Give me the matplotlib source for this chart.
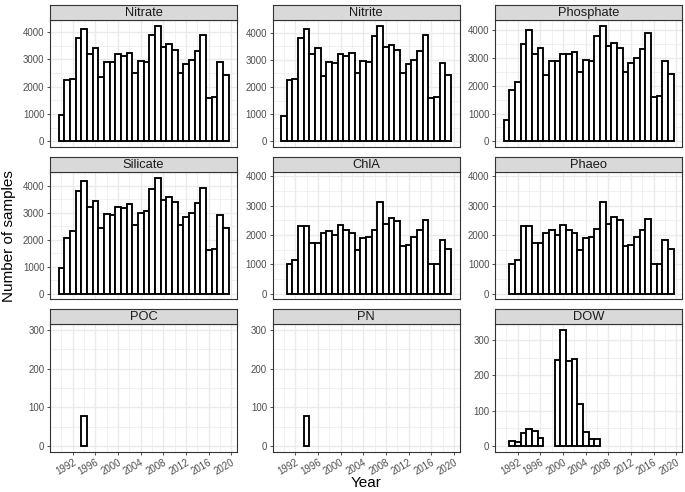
import matplotlib
matplotlib.use("Agg")
import matplotlib.pyplot as plt
from matplotlib.ticker import MultipleLocator, FixedLocator

plt.rcParams['font.family'] = ['Liberation Sans', 'DejaVu Sans']

# ---------------- data ----------------
panel_names = ["Nitrate", "Nitrite", "Phosphate", "Silicate", "ChlA", "Phaeo", "POC", "PN", "DOW"]

years_nutrients = [1990, 1991, 1992, 1993, 1994, 1995, 1996, 1997, 1998, 1999,
                   2000, 2001, 2002, 2003, 2004, 2005, 2006, 2007, 2008, 2009,
                   2010, 2011, 2012, 2013, 2014, 2015, 2016, 2017, 2018, 2019]
nitrate = [950, 2240, 2300, 3780, 4120, 3180, 3410, 2360, 2910, 2890,
           3190, 3140, 3240, 2510, 2940, 2910, 3880, 4230, 3450, 3550,
           3350, 2520, 2840, 2970, 3320, 3900, 1590, 1640, 2890, 2420]
nitrite = [950, 2250, 2300, 3800, 4150, 3200, 3420, 2400, 2930, 2900,
           3200, 3150, 3250, 2500, 2950, 2930, 3880, 4250, 3470, 3550,
           3370, 2530, 2840, 2980, 3320, 3900, 1600, 1640, 2900, 2430]
phosphate = [780, 1850, 2130, 3500, 4000, 3120, 3370, 2370, 2900, 2870,
             3150, 3130, 3220, 2480, 2930, 2880, 3800, 4150, 3430, 3520,
             3350, 2500, 2820, 2980, 3300, 3880, 1600, 1640, 2900, 2430]
silicate = [960, 2070, 2330, 3800, 4180, 3200, 3430, 2440, 2950, 2920,
            3210, 3180, 3300, 2540, 3000, 3060, 3890, 4280, 3470, 3590,
            3390, 2540, 2840, 3000, 3350, 3900, 1620, 1660, 2920, 2440]

years_pigments = [1991, 1992, 1993, 1994, 1995, 1996, 1997, 1998, 1999, 2000,
                  2001, 2002, 2003, 2004, 2005, 2006, 2007, 2008, 2009, 2010,
                  2011, 2012, 2013, 2014, 2015, 2016, 2017, 2018, 2019]
chla = [1000, 1130, 2290, 2300, 1720, 1740, 2050, 2150, 2000, 2340,
        2180, 2050, 1500, 1890, 1940, 2180, 3120, 2360, 2590, 2490,
        1610, 1640, 1930, 2180, 2520, 1000, 1000, 1820, 1520]
phaeo = [1000, 1140, 2290, 2310, 1730, 1740, 2050, 2160, 2000, 2340,
         2180, 2050, 1500, 1900, 1940, 2190, 3120, 2370, 2600, 2500,
         1610, 1640, 1930, 2180, 2530, 1000, 1000, 1820, 1530]

years_poc = [1994]
poc = [78]
years_pn = [1994]
pn = [78]

years_dow = [1991, 1992, 1993, 1994, 1995, 1996, 1999, 2000, 2001, 2002, 2003, 2004, 2005, 2006]
dow = [13, 11, 35, 48, 41, 21, 243, 328, 241, 246, 119, 40, 18, 18]

x_ticks = [1992, 1996, 2000, 2004, 2008, 2012, 2016, 2020]
x_tick_labels = ["1992", "1996", "2000", "2004", "2008", "2012", "2016", "2020"]

# upper limit of y scale (None -> from data)
y_upper = [None, None, None, None, 3940, 3940, 300, 300, None]

# ---------------- figure ----------------
W, H = 685, 492
fig = plt.figure(figsize=(W / 100, H / 100), dpi=100)

series = [(years_nutrients, nitrate), (years_nutrients, nitrite), (years_nutrients, phosphate),
          (years_nutrients, silicate), (years_pigments, chla), (years_pigments, phaeo),
          (years_poc, poc), (years_pn, pn), (years_dow, dow)]

col_left = [50, 272.5, 495]
panel_w = 187
strip_top = [5, 157.2, 309.4]
strip_h = 15
body_h = 127.2

grid_major = '#EBEBEB'
dark = '#333333'
txt_grey = '#4D4D4D'

for i, name in enumerate(panel_names):
    r, c = divmod(i, 3)
    x0 = col_left[c]
    st = strip_top[r]
    bt = st + strip_h
    bb = bt + body_h
    ax = fig.add_axes([x0 / W, 1 - bb / H, panel_w / W, body_h / H])
    sax = fig.add_axes([x0 / W, 1 - bt / H, panel_w / W, strip_h / H])

    yrs, vals = series[i]
    top = y_upper[i] if y_upper[i] is not None else max(vals)
    ax.set_ylim(-0.05 * top, 1.05 * top)
    ax.set_xlim(1988, 2021)

    ax.bar(yrs, vals, width=1.0, color='white', edgecolor='black', linewidth=1.35, zorder=3)

    ax.xaxis.set_major_locator(FixedLocator(x_ticks))
    ax.xaxis.set_minor_locator(MultipleLocator(4, offset=2))
    if r < 2:
        ax.yaxis.set_major_locator(MultipleLocator(1000))
        ax.yaxis.set_minor_locator(MultipleLocator(500))
    else:
        ax.yaxis.set_major_locator(MultipleLocator(100))
        ax.yaxis.set_minor_locator(MultipleLocator(50))

    ax.grid(True, which='major', color=grid_major, linewidth=1.0, zorder=0)
    ax.grid(True, which='minor', color=grid_major, linewidth=0.5, zorder=0)
    ax.set_axisbelow(True)
    for sp in ax.spines.values():
        sp.set_color(dark)
        sp.set_linewidth(0.8)

    ax.tick_params(axis='y', which='major', length=2.5, width=0.6, color=dark,
                   labelsize=6.9, labelcolor=txt_grey, pad=1.5)
    ax.tick_params(axis='y', which='minor', length=0)
    ax.tick_params(axis='x', which='minor', length=0)
    if r == 2:
        ax.set_xticklabels(x_tick_labels)
        ax.tick_params(axis='x', which='major', length=2.5, width=0.6, color=dark,
                       labelsize=6.9, labelcolor=txt_grey, pad=1.5)
        for lab in ax.get_xticklabels():
            lab.set_rotation(30)
            lab.set_ha('right')
            lab.set_va('top')
            lab.set_rotation_mode('anchor')
    else:
        ax.tick_params(axis='x', which='major', length=0, labelbottom=False)

    sax.set_xticks([])
    sax.set_yticks([])
    sax.set_facecolor('#D9D9D9')
    for sp in sax.spines.values():
        sp.set_color(dark)
        sp.set_linewidth(0.8)
    sax.text(0.5, 0.47, name, ha='center', va='center', fontsize=9.3, color='#1A1A1A',
             transform=sax.transAxes)

fig.text(366 / W, 1 - 483 / H, "Year", ha='center', va='center', fontsize=11, color='black')
fig.text(9 / W, 1 - 236 / H, "Number of samples", ha='center', va='center', rotation=90,
         fontsize=11, color='black')

fig.savefig("out.png", dpi=100)
